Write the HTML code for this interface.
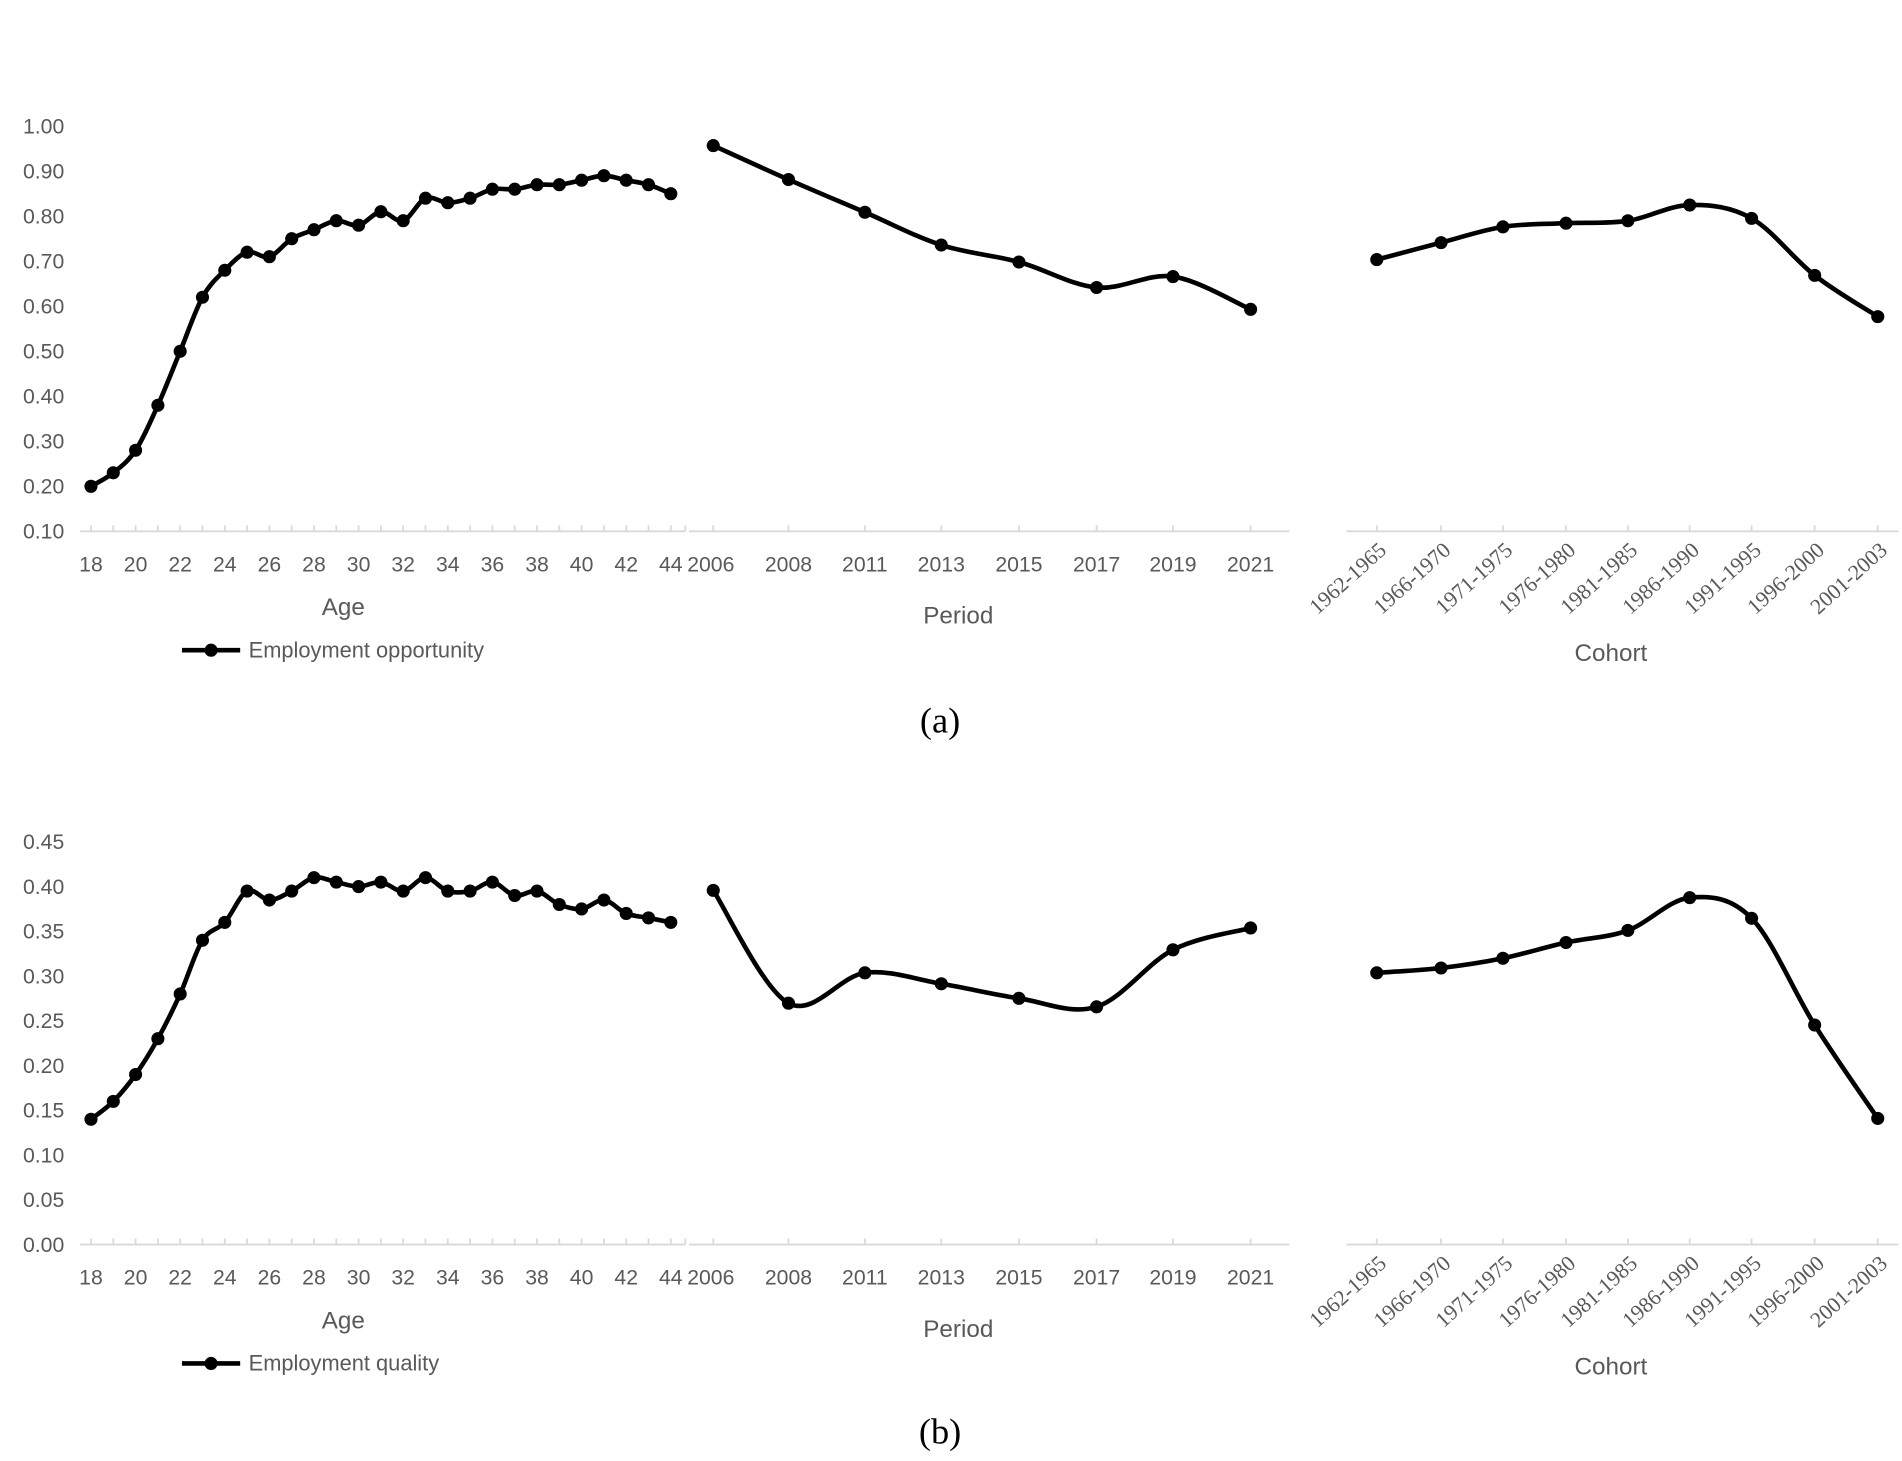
<!DOCTYPE html>
<html><head><meta charset="utf-8"><style>
html,body{margin:0;padding:0;background:#fff}
svg{display:block}
text{font-family:"Liberation Sans",sans-serif;fill:#595959}
</style></head><body>
<svg id="s" width="1902" height="1461" viewBox="0 0 1568 1204.4" xmlns="http://www.w3.org/2000/svg"></svg>
<script>
var s=document.getElementById('s'),h='';
function T(x,y,t,o){o=o||{};var st='';if(o.ff)st+='font-family:'+o.ff+';';if(o.fill)st+='fill:'+o.fill+';';h+='<text x="'+x+'" y="'+y+'" font-size="'+(o.fs||17.5)+'" text-anchor="'+(o.a||'middle')+'"'+(o.tr?' transform="'+o.tr+'"':'')+(st?' style="'+st+'"':'')+'>'+t+'</text>';}
function L(x1,y1,x2,y2){h+='<line x1="'+x1+'" y1="'+y1+'" x2="'+x2+'" y2="'+y2+'" stroke="#d9d9d9" stroke-width="1.5"/>';}
function curve(p){var d='M'+p[0][0]+','+p[0][1];for(var i=0;i<p.length-1;i++){var p0=p[i-1]||p[i],p1=p[i],p2=p[i+1],p3=p[i+2]||p2;var t=6;d+=' C'+(p1[0]+(p2[0]-p0[0])/t)+','+(p1[1]+(p2[1]-p0[1])/t)+' '+(p2[0]-(p3[0]-p1[0])/t)+','+(p2[1]-(p3[1]-p1[1])/t)+' '+p2[0]+','+p2[1];}
h+='<path d="'+d+'" fill="none" stroke="#000" stroke-width="3.8" stroke-linejoin="round"/>';p.forEach(function(q){h+='<circle cx="'+q[0]+'" cy="'+q[1]+'" r="5.4" fill="#000"/>';});}
var cohorts=['1962-1965','1966-1970','1971-1975','1976-1980','1981-1985','1986-1990','1991-1995','1996-2000','2001-2003'];
var cx=[1135,1188,1239,1291,1342,1393,1444,1496,1548];
var px=[588,650,713,776,840,904,967,1031],pl=['2006','2008','2011','2013','2015','2017','2019','2021'];
function panel(ax,yv,ylab,ageV,perY,cohY,legend,leg,tag,tagY,perLabY,cohLabY,ageLabY){
 ylab.forEach(function(l){T(53,l[1]+6,l[0],{a:'end'});});
 L(66,ax,565,ax);for(var a=18;a<=44;a++){var x=75+(a-18)*18.385;L(x,ax,x,ax-5);if(a%2==0)T(x,ax+33,a);}
 L(565,ax,565,ax-5);
 L(568,ax,1063,ax);for(var i=0;i<8;i++){L(px[i],ax,px[i],ax-5);T(px[i]+(i==0?-2:0),ax+33,pl[i]);}
 L(1110,ax,1565,ax);cx.forEach(function(x,i){L(x,ax,x,ax-5);T(x+9,ax+17,cohorts[i],{a:'end',fs:18,ff:'\'Liberation Serif\',serif',tr:'rotate(-42 '+(x+9)+' '+(ax+17)+')'});});
 T(283,ageLabY,'Age',{fs:20});T(790,perLabY,'Period',{fs:20});T(1328,cohLabY,'Cohort',{fs:20});
 curve(ageV.map(function(v,i){return [75+i*18.385,yv(v)];}));
 curve(perY.map(function(y,i){return [px[i],y];}));
 curve(cohY.map(function(y,i){return [cx[i],y];}));
 h+='<line x1="150" y1="'+leg+'" x2="198" y2="'+leg+'" stroke="#000" stroke-width="3.8"/><circle cx="174" cy="'+leg+'" r="5.4"/>';
 T(205,leg+6,legend,{a:'start',fs:18});
 T(775,tagY,tag,{fs:30,ff:'\'Liberation Serif\',serif',fill:'#000'});
}
var ya=function(v){return 438-(v-0.1)*371.1;};
var la=[];for(var k=0;k<10;k++){var v=0.1+k*0.1;la.push([v.toFixed(2),ya(v)]);}
panel(438,ya,la,[.20,.23,.28,.38,.50,.62,.68,.72,.71,.75,.77,.79,.78,.81,.79,.84,.83,.84,.86,.86,.87,.87,.88,.89,.88,.87,.85],
 [120,148,175,202,216,237,228,255],[214,200,187,184,182,169,180,227,261],'Employment opportunity',536,'(a)',604,514,545,507);
var yb=function(v){return 1026-v*737.8;};
var lb=[];for(var k=0;k<10;k++){var v=k*0.05;lb.push([v.toFixed(2),yb(v)]);}
panel(1026,yb,lb,[.14,.16,.19,.23,.28,.34,.36,.395,.385,.395,.41,.405,.40,.405,.395,.41,.395,.395,.405,.39,.395,.38,.375,.385,.37,.365,.36],
 [734,827,802,811,823,830,783,765],[802,798,790,777,767,740,757,845,922],'Employment quality',1124,'(b)',1190,1102,1133,1095);
s.innerHTML=h;
</script>
</body></html>
